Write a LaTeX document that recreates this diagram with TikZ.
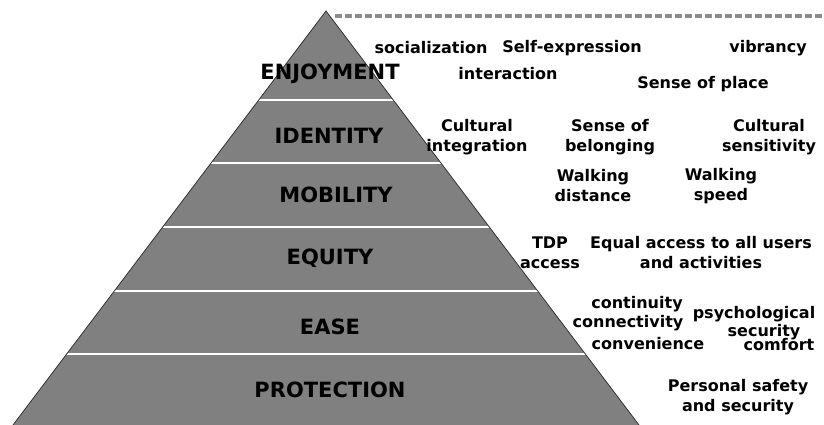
\documentclass[tikz,border=0pt]{standalone}
\usepackage{fontspec}
\setmainfont{DejaVu Sans}
\usepackage{tikz}
\definecolor{pyrgray}{HTML}{808080}
\definecolor{dashgray}{HTML}{8C8C8C}
\def\pyramid{(326,11) -- (639,425) -- (13,425) -- cycle}
\tikzset{
  level/.style={font=\bfseries\fontsize{21}{24}\selectfont, inner sep=0pt},
  item/.style={font=\bfseries\fontsize{16}{20}\selectfont, align=center, inner sep=0pt}
}

\begin{document}
\begin{tikzpicture}[x=1pt,y=-1pt]
			\useasboundingbox (0,0) rectangle (824,425);
			\begin{scope}
				\fill[pyrgray] \pyramid;
				\clip \pyramid;
				\foreach \yy in {100,163,227,291,354}
					\draw[white,line width=2pt] (0,\yy) -- (824,\yy);
			\end{scope}
			\draw[black!80,line width=0.8pt] (13,425) -- (326,11) -- (639,425);
			\coordinate (apex) at (326,11);
			\coordinate (dashend) at (824,16);
			\draw[dashgray,line width=3.5pt,dash pattern=on 7pt off 3pt] (apex) ++(9,5) -- (dashend);
			% levels
			\node[level] (enjoy) at (330,74) {ENJOYMENT};
			\node[level] (ident) at (329,136) {IDENTITY};
			\node[level] (mobil) at (336,195) {MOBILITY};
			\node[level] (equit) at (330,258) {EQUITY};
			\node[level] (ease) at (330,327) {EASE};
			\node[level] (prot) at (330,390) {PROTECTION};
			% enjoyment
			\node[item] (social) at (431,48) {socialization};
			\node[item] (selfexp) at (572,48) {Self-expression};
			\node[item] (vibr) at (768,48) {vibrancy};
			\node[item] (inter) at (508,74) {interaction};
			\node[item] (place) at (703,84) {Sense of place};
			% identity
			\node[item] (culint) at (477,137) {Cultural\\integration};
			\node[item] (belong) at (610,137) {Sense of\\belonging};
			\node[item] (culsens) at (769,137) {Cultural\\sensitivity};
			% mobility
			\node[item] (wdist) at (593,186) {Walking\\distance};
			\node[item] (wspeed) at (721,186) {Walking\\speed};
			% equity
			\node[item] (tdp) at (550,253) {TDP\\access};
			\node[item] (equal) at (701,253) {Equal access to all users\\and activities};
			% ease
			\node[item] (contin) at (637,304) {continuity};
			\node[item] (connect) at (628,323) {connectivity};
			\node[item] (conven) at (648,344) {convenience};
			\node[item] (psych) at (754,314) {psychological};
			\node[item] (secur) at (764,332) {security};
			\node[item] (comf) at (779,345) {comfort};
			% protection
			\node[item] (safety) at (738,397) {Personal safety\\and security};
		\end{tikzpicture}
\end{document}
